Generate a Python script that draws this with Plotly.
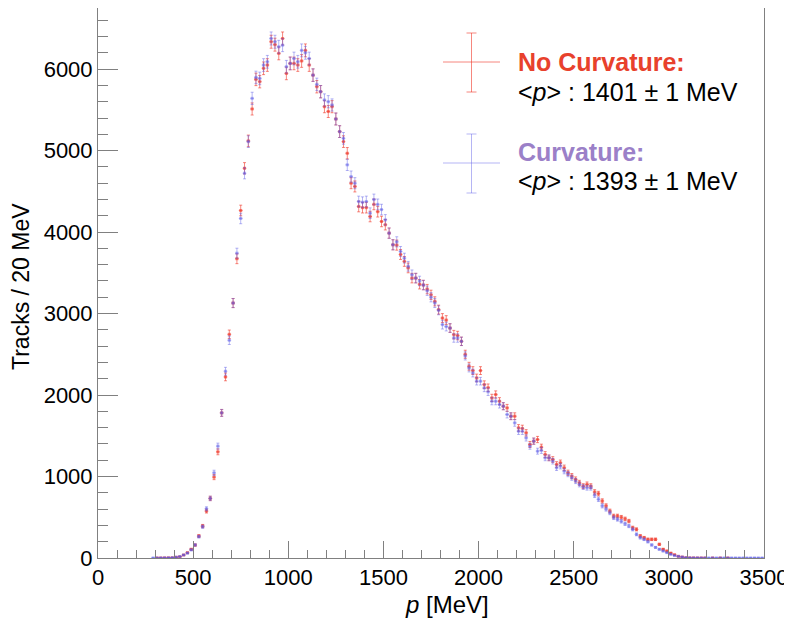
import numpy as np
import plotly.graph_objects as go

# 20 MeV bins from 0 to 3500 MeV
bin_width = 20
bin_centers = np.arange(10, 3500, bin_width)

# Tracks per bin, "No Curvature" (red)
no_curvature = [
    0, 0, 0, 0, 0, 0, 0, 0, 0, 0,
    0, 0, 0, 0, 0, 1, 1, 2, 3, 4,
    9, 16, 37, 65, 107, 159, 270, 392, 576, 731,
    993, 1303, 1781, 2222, 2745, 3129, 3673, 4265, 4783, 5119,
    5511, 5874, 5846, 6010, 6050, 6336, 6300, 6193, 6376, 5947,
    6070, 6070, 6050, 6100, 6230, 6050, 5926, 5784, 5723, 5539,
    5480, 5539, 5388, 5233, 5110, 4967, 4600, 4560, 4314, 4300,
    4300, 4191, 4340, 4250, 4130, 4090, 3987, 3844, 3840, 3725,
    3640, 3560, 3435, 3435, 3360, 3350, 3300, 3230, 3150, 3048,
    2945, 2920, 2822, 2741, 2730, 2659, 2500, 2353, 2300, 2210,
    2300, 2128, 2090, 1965, 2006, 1924, 1863, 1842, 1740, 1740,
    1597, 1590, 1536, 1393, 1434, 1454, 1360, 1270, 1229, 1209,
    1148, 1168, 1107, 1046, 1005, 964, 923, 882, 903, 882,
    810, 790, 700, 640, 576, 515, 515, 500, 480, 453,
    371, 351, 270, 249, 229, 229, 229, 168, 107, 86,
    60, 40, 20, 12, 5, 3, 2, 1, 1, 1,
    0, 1, 0, 1, 0, 1, 0, 0, 0, 0,
    0, 0, 0, 0, 0,
]

# Tracks per bin, "Curvature" (blue)
curvature = [
    0, 0, 0, 0, 0, 0, 0, 0, 0, 0,
    0, 0, 0, 0, 1, 1, 2, 2, 3, 5,
    10, 18, 37, 60, 100, 160, 262, 384, 604, 731,
    1045, 1373, 1781, 2292, 2672, 3129, 3741, 4167, 4722, 5110,
    5641, 5898, 5886, 6050, 6090, 6376, 6336, 6274, 6294, 6029,
    6070, 6130, 6090, 6230, 6200, 6130, 5926, 5813, 5723, 5621,
    5600, 5560, 5388, 5233, 5150, 4825, 4681, 4600, 4375, 4366,
    4375, 4232, 4400, 4340, 4276, 4150, 3987, 3844, 3880, 3762,
    3680, 3580, 3476, 3435, 3400, 3350, 3280, 3200, 3130, 3040,
    2864, 2840, 2822, 2700, 2700, 2659, 2480, 2332, 2270, 2170,
    2170, 2087, 2040, 1924, 1924, 1884, 1863, 1761, 1740, 1658,
    1556, 1556, 1474, 1372, 1434, 1311, 1320, 1229, 1229, 1188,
    1107, 1127, 1066, 1030, 985, 944, 903, 870, 862, 862,
    770, 720, 640, 600, 555, 494, 474, 450, 420, 392,
    351, 290, 249, 229, 200, 160, 130, 107, 86, 66,
    45, 30, 20, 12, 5, 3, 2, 2, 1, 1,
    1, 1, 1, 1, 1, 1, 1, 1, 1, 1,
    1, 1, 1, 1, 1,
]

red = "rgba(240,55,40,0.6)"
blue = "rgba(90,90,230,0.45)"
font_name = "Liberation Sans, Arial, sans-serif"

# the page body adds an 8 px margin, so the figure is drawn 8 px smaller
# and all pixel positions below are page positions minus that offset
OFF = 8
W, H = 792 - OFF, 621 - OFF
L, R, T, B = 98 - OFF, 764 - OFF, 0, 558 - OFF


def px(x):
    return (x - OFF - L) / (R - L)


def py(y):
    return (B - (y - OFF)) / (B - T)


def hist_trace(counts, color):
    counts = np.array(counts, dtype=float)
    keep = counts > 0
    return go.Scatter(
        x=bin_centers[keep], y=counts[keep], mode="markers",
        marker=dict(symbol="square", size=3, color=color),
        error_y=dict(type="data", array=np.sqrt(counts[keep]),
                     color=color, thickness=1, width=1.5),
        error_x=dict(type="constant", value=bin_width / 2,
                     color=color, thickness=1, width=0),
        showlegend=False, hoverinfo="skip",
    )


fig = go.Figure()
fig.add_trace(hist_trace(no_curvature, red))
fig.add_trace(hist_trace(curvature, blue))

axis_col = "#808080"
fig.update_xaxes(
    range=[0, 3500], tickvals=list(range(0, 3501, 500)), tickformat="d",
    ticks="inside", ticklen=17, tickcolor=axis_col, tickwidth=1,
    minor=dict(ticks="inside", ticklen=8, dtick=100, tickcolor=axis_col),
    showline=True, linecolor=axis_col, mirror=True,
    showgrid=False, zeroline=False,
    tickfont=dict(size=22, color="black", family=font_name),
)
fig.update_yaxes(
    range=[0, 6750], dtick=1000, tickformat="d",
    ticks="inside", ticklen=20, tickcolor=axis_col, tickwidth=1,
    minor=dict(ticks="inside", ticklen=10, dtick=200, tickcolor=axis_col),
    showline=True, linecolor=axis_col, mirror=True,
    showgrid=False, zeroline=False,
    tickfont=dict(size=22, color="black", family=font_name),
)

# legend crosses
shapes = []
for yc, col in [(62, red), (163, blue)]:
    xc = 471.5
    shapes.append(dict(type="line", xref="paper", yref="paper",
                       x0=px(443), x1=px(500), y0=py(yc), y1=py(yc),
                       line=dict(color=col, width=1)))
    shapes.append(dict(type="line", xref="paper", yref="paper",
                       x0=px(xc), x1=px(xc), y0=py(yc - 29), y1=py(yc + 30),
                       line=dict(color=col, width=1)))
    for yy in (yc - 29, yc + 30):
        shapes.append(dict(type="line", xref="paper", yref="paper",
                           x0=px(xc - 5), x1=px(xc + 5), y0=py(yy), y1=py(yy),
                           line=dict(color=col, width=1)))

annotations = [
    dict(text="<b>No Curvature:</b>", x=px(516), y=py(62),
         font=dict(color="#E8412C")),
    dict(text="&lt;<i>p</i>&gt; : 1401 ± 1 MeV", x=px(516), y=py(92),
         font=dict(color="black")),
    dict(text="<b>Curvature:</b>", x=px(516), y=py(152),
         font=dict(color="#9B80C8")),
    dict(text="&lt;<i>p</i>&gt; : 1393 ± 1 MeV", x=px(516), y=py(181),
         font=dict(color="black")),
]
for a in annotations:
    a.update(xref="paper", yref="paper", xanchor="left", yanchor="middle",
             showarrow=False)
    a["font"].update(size=25, family=font_name)

annotations.append(dict(text="Tracks / 20 MeV", x=px(21), y=py(287),
                        xref="paper", yref="paper", textangle=-90,
                        xanchor="center", yanchor="middle", showarrow=False,
                        font=dict(size=23, family=font_name, color="black")))
annotations.append(dict(text="<i>p</i> [MeV]", x=px(447), y=py(604),
                        xref="paper", yref="paper",
                        xanchor="center", yanchor="middle", showarrow=False,
                        font=dict(size=24, family=font_name, color="black")))

fig.update_layout(
    width=W, height=H,
    margin=dict(l=L, r=W - R, t=T, b=H - B),
    plot_bgcolor="white", paper_bgcolor="white",
    shapes=shapes, annotations=annotations,
    font=dict(family=font_name),
)

fig.write_html("out.html")
